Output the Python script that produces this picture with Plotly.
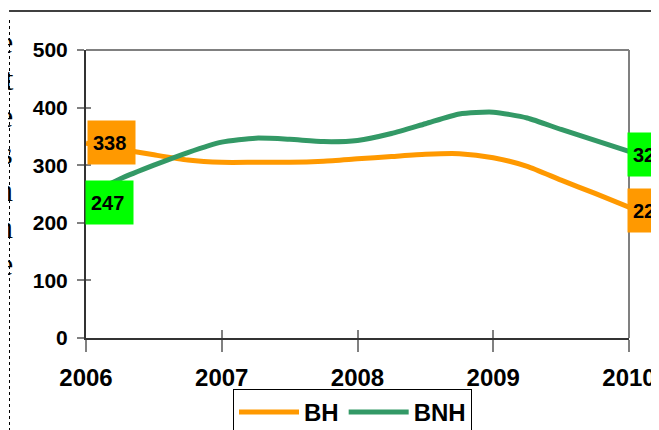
import plotly.graph_objects as go

# ---- data ----
periods = [2006.0, 2006.25, 2006.5, 2006.75, 2007.0, 2007.25, 2007.5, 2007.75,
           2008.0, 2008.25, 2008.5, 2008.75, 2009.0, 2009.25, 2009.5, 2009.75, 2010.0]
bh = [338, 328, 318, 309, 305, 305, 305, 307, 311, 315, 319, 320, 313, 298, 274, 251, 227]
bnh = [247, 276, 300, 322, 340, 347, 345, 341, 343, 355, 372, 389, 392, 382, 362, 343, 324]
year_ticks = [2006, 2007, 2008, 2009, 2010]
year_labels = ["2006", "2007", "2008", "2009", "2010"]
y_ticks = [0, 100, 200, 300, 400, 500]
side_text = ["e", "st", "e", "es", "n", "n", "e"]

ORANGE = "#FF9900"
GREEN = "#339966"
LIME = "#00FF00"
FONT = "Liberation Sans"

OFF = 8  # default page margin around the figure
W, H = 659 - OFF, 430 - OFF
L, T = 86 - OFF, 50 - OFF
PW, PH = 543, 288
R, B = W - L - PW, H - T - PH


def px_x(p):
    # window pixel -> paper x
    return (p - OFF - L) / PW


def px_y(p):
    # window pixel -> paper y
    return (T + PH - (p - OFF)) / PH


fig = go.Figure()
fig.add_trace(go.Scatter(x=periods, y=bh, mode="lines", name="BH",
                         line=dict(color=ORANGE, width=5, shape="spline", smoothing=0.6)))
fig.add_trace(go.Scatter(x=periods, y=bnh, mode="lines", name="BNH",
                         line=dict(color=GREEN, width=5, shape="spline", smoothing=0.6)))
# invisible trace on overlay axes for the inner half of the cross ticks
fig.add_trace(go.Scatter(x=[periods[0]], y=[bh[0]], xaxis="x2", yaxis="y2",
                         mode="lines", showlegend=False, hoverinfo="skip",
                         line=dict(color="rgba(0,0,0,0)")))

fig.update_layout(
    width=W, height=H,
    margin=dict(l=L, r=R, t=T, b=B, autoexpand=False),
    paper_bgcolor="white", plot_bgcolor="white",
    showlegend=True,
    legend=dict(orientation="h", x=px_x(233), y=px_y(389), xanchor="left", yanchor="top",
                bordercolor="black", borderwidth=1, bgcolor="white",
                itemwidth=60, tracegroupgap=0,
                font=dict(family=FONT, size=24, color="black", weight="bold")),
    xaxis=dict(range=[2006, 2010], tickvals=year_ticks, ticktext=year_labels,
               showgrid=False, zeroline=False, showline=True, linecolor="#333333", linewidth=2,
               ticks="outside", ticklen=12, tickwidth=2, tickcolor="#808080",
               tickfont=dict(family=FONT, size=24, color="black", weight="bold"),
               ticklabelstandoff=5),
    yaxis=dict(range=[0, 500], tickvals=y_ticks, showgrid=False, zeroline=False,
               showline=True, linecolor="#333333", linewidth=2,
               ticks="outside", ticklen=7, tickwidth=2, tickcolor="#808080",
               tickfont=dict(family=FONT, size=21, color="black", weight="bold"),
               ticklabelstandoff=5),
    xaxis2=dict(range=[2006, 2010], tickvals=year_ticks, overlaying="x", matches="x",
                showticklabels=False, showgrid=False, zeroline=False, showline=False,
                ticks="inside", ticklen=8, tickwidth=2, tickcolor="#808080"),
    yaxis2=dict(range=[0, 500], tickvals=y_ticks, overlaying="y", matches="y",
                showticklabels=False, showgrid=False, zeroline=False, showline=False,
                ticks="inside", ticklen=5, tickwidth=2, tickcolor="#808080"),
)

# plot-area top/right border (gray)
fig.add_shape(type="line", xref="paper", yref="paper", x0=0, x1=1, y0=1, y1=1,
              line=dict(color="#808080", width=2))
fig.add_shape(type="line", xref="paper", yref="paper", x0=1, x1=1, y0=0, y1=1,
              line=dict(color="#808080", width=2))
# document frame: top solid line and dotted text-box border
fig.add_shape(type="line", xref="paper", yref="paper", x0=px_x(9), x1=px_x(680),
              y0=px_y(11), y1=px_y(11), line=dict(color="black", width=1.5))
fig.add_shape(type="line", xref="paper", yref="paper", x0=px_x(9.5), x1=px_x(9.5),
              y0=px_y(20), y1=px_y(440), line=dict(color="black", width=1, dash="dot"))

# side text fragments of the surrounding document
for i, t in enumerate(side_text):
    fig.add_annotation(x=px_x(15), y=px_y(42 + 37 * i), xref="paper", yref="paper",
                       text=t, showarrow=False, xanchor="right", yanchor="middle",
                       font=dict(family="Liberation Serif", size=32, color="black"))


# data labels at the end points
def label(xv, yv, color, yshift, xshift):
    fig.add_annotation(x=xv, y=yv, xref="x", yref="y", text=str(yv), showarrow=False,
                       xanchor="left", yanchor="middle", xshift=xshift, yshift=yshift,
                       bgcolor=color, borderpad=5, width=37, height=33, align="left",
                       font=dict(family=FONT, size=20, color="black", weight="bold"))


label(periods[0], bh[0], ORANGE, 1, 1)
label(periods[0], bnh[0], LIME, -7, -1)
label(periods[-1], bnh[-1], LIME, -3, -2)
label(periods[-1], bh[-1], ORANGE, -3, -2)

fig.write_html("out.html")
